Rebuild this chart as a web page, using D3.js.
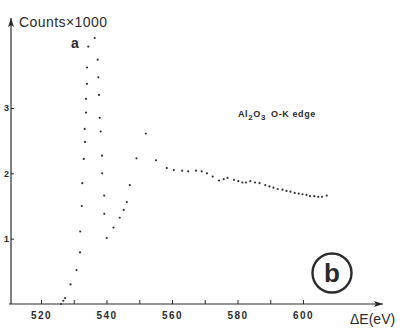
<!DOCTYPE html>
<html>
<head>
<meta charset="utf-8">
<script src="https://cdn.jsdelivr.net/npm/d3@7"></script>
<style>
  html, body { margin: 0; padding: 0; background: #fff; }
  svg { display: block; }
</style>
</head>
<body>
<svg id="chart" width="403" height="330"></svg>
<script>
// ---- data ----
const energy = [
  526.11, 526.81, 527.33, 529.01, 530.84, 531.91, 531.97, 532.46, 532.61, 533.07,
  533.44, 533.34, 533.74, 533.74, 534.05, 534.05, 534.44, 536.40, 537.31, 537.50,
  537.71, 537.92, 538.23, 538.63, 538.69, 539.30, 539.33, 540.06, 542.14, 544.03,
  545.25, 546.20, 547.11, 549.16, 552.00, 555.11, 558.41, 560.55, 563.11, 564.95,
  567.33, 569.07, 570.69, 572.43, 574.35, 575.79, 576.95, 578.93, 580.24, 581.47,
  582.60, 583.91, 585.34, 586.72, 588.49, 589.77, 590.99, 592.27, 593.74, 594.96,
  596.18, 597.46, 598.69, 599.85, 601.07, 602.14, 603.45, 604.67, 605.80, 607.24
];
const counts = [
  0.00, 0.05, 0.09, 0.30, 0.52, 0.79, 1.11, 1.50, 1.85, 2.22,
  2.48, 2.68, 2.93, 3.14, 3.37, 3.62, 3.94, 4.07, 3.74, 3.47,
  3.20, 2.85, 2.64, 2.27, 2.00, 1.66, 1.38, 1.01, 1.17, 1.32,
  1.44, 1.56, 1.82, 2.23, 2.61, 2.20, 2.08, 2.05, 2.04, 2.03,
  2.04, 2.03, 2.00, 1.95, 1.89, 1.91, 1.93, 1.90, 1.88, 1.86,
  1.86, 1.88, 1.86, 1.85, 1.82, 1.80, 1.78, 1.76, 1.75, 1.73,
  1.72, 1.70, 1.69, 1.68, 1.67, 1.65, 1.65, 1.64, 1.64, 1.66
];
const xTicks = [520, 530, 540, 550, 560, 570, 580, 590, 600];
const xTickLabels = [520, 540, 560, 580, 600];
const yTicks = [1, 2, 3];
const yLabel = "Counts\u00d71000";
const xLabel = "\u0394E(eV)";
const panelMark = "b";
const curveMark = "a";

// ---- drawing ----
const svg = d3.select("#chart");
const ink = "#2b2b2b";

const x = d3.scaleLinear().domain([520, 600]).range([41, 303]);
const y = d3.scaleLinear().domain([0, 3]).range([304, 108]);

const x0 = x.invert(9), x1 = x.invert(383);
const y1 = y.invert(18);

// X axis
const gx = svg.append("g").attr("transform", `translate(0,${y(0)})`)
  .call(d3.axisBottom(x).tickValues(xTicks).tickSizeInner(-4).tickSizeOuter(0).tickPadding(8)
    .tickFormat(d => xTickLabels.includes(d) ? d3.format("d")(d) : ""));
gx.select(".domain").remove();
gx.selectAll(".tick line").attr("stroke", ink).attr("stroke-width", 1);
gx.selectAll(".tick text").attr("fill", ink)
  .attr("font-family", "Liberation Sans, Arial, sans-serif")
  .attr("font-weight", "bold").attr("font-size", 10).attr("letter-spacing", 1.5);

// Y axis
const yax = x(x0) + 2;
const gy = svg.append("g").attr("transform", `translate(${yax},0)`)
  .call(d3.axisLeft(y).tickValues(yTicks).tickFormat(d3.format("d"))
    .tickSizeInner(-3).tickSizeOuter(0).tickPadding(2));
gy.select(".domain").remove();
gy.selectAll(".tick line").attr("stroke", ink).attr("stroke-width", 1);
gy.selectAll(".tick text").attr("fill", ink)
  .attr("font-family", "Liberation Sans, Arial, sans-serif")
  .attr("font-weight", "bold").attr("font-size", 9);

// axis lines with arrows
const ay = y(0);
svg.append("line").attr("x1", x(x0)).attr("y1", ay).attr("x2", x(x1)).attr("y2", ay)
  .attr("stroke", ink).attr("stroke-width", 1.2);
svg.append("path")
  .attr("d", `M${x(x1)},${ay} l-9,-3 l2,3 l-2,3 z`)
  .attr("fill", ink);
svg.append("line").attr("x1", yax).attr("y1", ay).attr("x2", yax).attr("y2", y(y1))
  .attr("stroke", ink).attr("stroke-width", 1.2);
svg.append("path")
  .attr("d", `M${yax},${y(y1)} l-3,9 l3,-2 l3,2 z`)
  .attr("fill", ink);

// data dots
svg.append("g").selectAll("circle")
  .data(energy.map((e, i) => [e, counts[i]]))
  .join("circle")
  .attr("cx", d => x(d[0])).attr("cy", d => y(d[1]))
  .attr("r", 1.1).attr("fill", "#333");

// labels
svg.append("text").attr("x", yax + 8).attr("y", 27)
  .attr("font-family", "Liberation Sans, Arial, sans-serif")
  .attr("font-size", 14).attr("fill", ink).attr("textLength", 88)
  .text(yLabel);

svg.append("text").attr("x", 350).attr("y", 324)
  .attr("font-family", "Liberation Sans, Arial, sans-serif")
  .attr("font-size", 14).attr("fill", ink)
  .text(xLabel);

svg.append("text").attr("x", 71).attr("y", 48)
  .attr("font-family", "Liberation Sans, Arial, sans-serif")
  .attr("font-weight", "bold").attr("font-size", 14).attr("fill", ink)
  .text(curveMark);

// Al2O3 O-K edge
const t = svg.append("text").attr("x", 238).attr("y", 117)
  .attr("font-family", "Liberation Sans, Arial, sans-serif")
  .attr("font-weight", "bold").attr("font-size", 9).attr("fill", ink)
  .attr("letter-spacing", 0.6);
t.append("tspan").text("Al");
t.append("tspan").attr("dy", 3).attr("font-size", 8).text("2");
t.append("tspan").attr("dy", -3).text("O");
t.append("tspan").attr("dy", 3).attr("font-size", 8).text("3");
t.append("tspan").attr("dy", -3).text("\u2002O-K  edge");

// circled b
svg.append("circle").attr("cx", 332).attr("cy", 273).attr("r", 19.5)
  .attr("fill", "none").attr("stroke", ink).attr("stroke-width", 2.4);
svg.append("text").attr("x", 332).attr("y", 282).attr("text-anchor", "middle")
  .attr("font-family", "Liberation Sans, Arial, sans-serif")
  .attr("font-weight", "bold").attr("font-size", 26).attr("fill", ink)
  .text(panelMark);
</script>
</body>
</html>
